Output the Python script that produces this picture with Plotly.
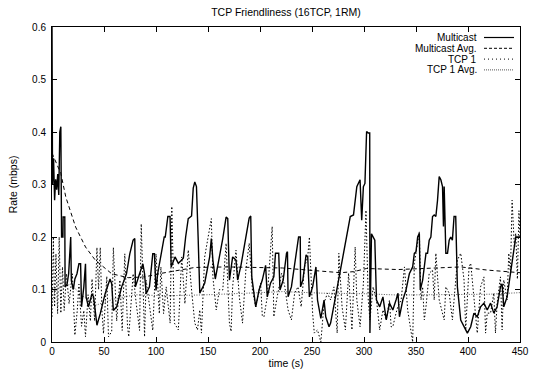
import plotly.graph_objects as go

# ---------------- data ----------------
mc_t = [0, 0.5, 1.5, 2.5, 3.5, 4.5, 5.5, 6.5, 7.5, 8.5, 9.2, 10.5, 10.7, 12.3, 12.6, 14.5, 16, 18, 18.6,
        20.5, 22, 24, 25.9, 27.5, 28.4, 30.6, 32.2, 32.8, 35, 38.5, 40, 43.2, 46.4, 51.1, 55.8, 57.4, 59,
        62.2, 67, 71.6, 74.8, 78, 79.6, 80.2, 84.2, 87.4, 89, 90.5, 93.7, 96.9, 98.5, 100, 101.6, 104.7,
        107.9, 108.9, 111.4, 113.5, 114.6, 118.3, 121.5, 124.7, 126.3, 128.5, 131, 134.2, 135.8, 137.3,
        138.9, 140.5, 142.1, 146.8, 151.6, 153.2, 154.7, 157, 160, 164.2, 167.4, 169, 170.6, 173.7, 176.9,
        178.5, 181.7, 186.4, 189.6, 191.1, 192.1, 195.9, 199.1, 202.2, 205.4, 207, 210.1, 213.3, 214.9,
        218, 219.2, 222.3, 223.9, 225.5, 226.4, 227, 230.2, 234.9, 237.1, 238.7, 239, 241.2, 244.3, 245.9,
        247.5, 250.6, 253.8, 255.3, 258.5, 261.6, 263.2, 266.4, 267.9, 272.6, 277.4, 280.5, 283.7, 286.8,
        289.9, 293.1, 296.2, 297.8, 299.4, 300.9, 302.5, 304.1, 305.5, 305.7, 307.2, 308.8, 310.4, 312,
        315.1, 318.2, 321.4, 324.5, 327.7, 330.8, 332.7, 334.1, 337.3, 340.4, 342, 343.6, 346.8, 348.4,
        350, 351.6, 353.2, 354.1, 356.4, 358, 359.6, 361.1, 362.7, 364.3, 365.9, 367.5, 369.1, 370.7,
        372.3, 373.9, 375.5, 376.4, 377.1, 378.7, 380.3, 381.9, 383.4, 385, 386.6, 388.2, 389.8, 393,
        396.2, 399.4, 402.6, 405.7, 408.9, 412.1, 415.3, 418.5, 421.7, 424.8, 428, 431.2, 432.8, 434.4,
        437.6, 440.8, 442.4, 444, 445.9, 450]
mc_v = [0.60, 0.30, 0.35, 0.27, 0.31, 0.29, 0.32, 0.28, 0.40, 0.41, 0.20, 0.20, 0.238, 0.238, 0.105, 0.11, 0.13, 0.20, 0.117,
        0.10, 0.12, 0.13, 0.149, 0.149, 0.067, 0.105, 0.149, 0.086, 0.067, 0.092, 0.086, 0.032, 0.054, 0.092, 0.12, 0.111, 0.06,
        0.067, 0.105, 0.13, 0.168, 0.194, 0.197, 0.105, 0.13, 0.149, 0.13, 0.092, 0.105, 0.168, 0.168, 0.098, 0.13, 0.168,
        0.20, 0.20, 0.239, 0.239, 0.143, 0.162, 0.15, 0.156, 0.16, 0.20, 0.235, 0.24, 0.293, 0.305,
        0.296, 0.20, 0.093, 0.112, 0.162, 0.197, 0.156, 0.12, 0.15, 0.197, 0.238, 0.235, 0.118, 0.162, 0.156,
        0.118, 0.146, 0.196, 0.236, 0.24, 0.124, 0.067, 0.099, 0.118, 0.146, 0.086, 0.112, 0.124, 0.169,
        0.169, 0.099, 0.118, 0.15, 0.169, 0.172, 0.086, 0.105, 0.169, 0.20, 0.20, 0.105, 0.118, 0.166, 0.162,
        0.086, 0.105, 0.143, 0.08, 0.045, 0.08, 0.048, 0.029, 0.036, 0.086, 0.137, 0.169, 0.207, 0.239,
        0.242, 0.296, 0.309, 0.232, 0.296, 0.302, 0.401, 0.398, 0.398, 0.017, 0.206, 0.20, 0.194, 0.08,
        0.067, 0.086, 0.042, 0.074, 0.061, 0.08, 0.093, 0.048, 0.08, 0.099, 0.118, 0.13, 0.143, 0.169,
        0.172, 0.20, 0.207, 0.099, 0.118, 0.146, 0.169, 0.169, 0.194, 0.20, 0.239, 0.242, 0.239, 0.27,
        0.315, 0.309, 0.296, 0.22, 0.296, 0.169, 0.169, 0.194, 0.20, 0.194, 0.239, 0.239, 0.105, 0.042,
        0.029, 0.017, 0.029, 0.055, 0.048, 0.067, 0.074, 0.061, 0.074, 0.055, 0.067, 0.105, 0.111, 0.067,
        0.086, 0.13, 0.15, 0.181, 0.20, 0.20]

mavg_t = [0, 8.5, 13.3, 22.7, 32.2, 41.6, 57.4, 73.2, 89, 105.7, 137.3, 169, 221.5, 249, 277.4, 290,
          302.5, 332.7, 361, 393, 418.5, 446, 450]
mavg_v = [0.36, 0.321, 0.276, 0.219, 0.181, 0.156, 0.130, 0.1225, 0.124, 0.131, 0.142, 0.143, 0.141, 0.137,
          0.132, 0.134, 0.140, 0.138, 0.140, 0.143, 0.137, 0.132, 0.132]

tcp_t = [0, 1.3, 2.5, 3.8, 5.4, 6.9, 8.5, 10.1, 11.7, 13.9, 16.4, 19.6, 22, 24.3, 25.9, 28.4, 30.6, 32.2,
         34.7, 36.9, 38.5, 41, 43.2, 44.8, 46.4, 48, 49.5, 52.7, 54.3, 57.4, 59, 60.6, 62.2, 65.3, 67.5, 70,
         72.6, 73.8, 78, 81, 84.2, 85.8, 87.4, 89, 90.5, 93.7, 96.9, 100, 103.2, 104.7, 107.3, 109.8,
         113.6, 115.2, 117.7, 121.5, 124.7, 127.8, 131, 134.2, 137.3, 139.9, 142.1, 143.7, 146.8, 153.2,
         154.7, 157.9, 161, 164.2, 167.4, 170.6, 172.2, 173.7, 176.9, 180.1, 183.2, 186.4, 189.6, 192.7,
         195.9, 200.6, 202.2, 203.8, 207, 211.7, 213.3, 216.5, 219.6, 220.8, 223.9, 227, 230.2, 233.3,
         236.5, 239.6, 242.8, 245.9, 247.5, 249.1, 250.6, 252.2, 255.3, 258.5, 261.6, 264.8, 267.9, 271.1,
         274.2, 275.8, 278.9, 282.1, 285.2, 288.4, 291.5, 293.1, 296.2, 299.4, 301.9, 304.1, 305.7, 308.8,
         312, 315.1, 318.2, 321.4, 324.5, 326.1, 327.7, 330.8, 332.5, 335.7, 338.9, 342, 345.2, 346.8,
         348.4, 353.2, 354.8, 356.4, 358, 359.6, 362.7, 365.9, 367.5, 369.1, 372.3, 375.5, 377.1, 378.7,
         381.9, 385, 389.8, 393, 396.2, 397.8, 401, 402.6, 405.7, 408.9, 412.1, 415.3, 416.9, 418.5, 421.7,
         424.8, 426.4, 428, 431.2, 432.8, 434.4, 437.6, 439.2, 440.8, 442.4, 444.6, 445.9, 447.5, 449, 450]
tcp_v = [0.048, 0.20, 0.067, 0.168, 0.054, 0.20, 0.055, 0.143, 0.06, 0.13, 0.073, 0.13, 0.013, 0.06, 0.11, 0.03, 0.06, 0.01,
         0.09, 0.04, 0.12, 0.04, 0.18, 0.10, 0.18, 0.06, 0.016, 0.125, 0.01, 0.02, 0.18, 0.105, 0.04, 0.118, 0.022, 0.168,
         0.03, 0.01, 0.13, 0.073, 0.022, 0.225, 0.13, 0.01, 0.118, 0.073, 0.022, 0.168, 0.054, 0.143, 0.054, 0.105,
         0.036, 0.258, 0.036, 0.023, 0.162, 0.073, 0.175, 0.099, 0.036, 0.023, 0.061, 0.017, 0.162, 0.235,
         0.124, 0.061, 0.10, 0.099, 0.188, 0.036, 0.02, 0.105, 0.175, 0.086, 0.036, 0.137, 0.188, 0.099,
         0.067, 0.112, 0.05, 0.048, 0.086, 0.22, 0.048, 0.086, 0.124, 0.131, 0.105, 0.061, 0.042, 0.093,
         0.105, 0.067, 0.143, 0.162, 0.20, 0.105, 0.055, 0.017, 0.023, 0.0, 0.074, 0.093, 0.08, 0.105,
         0.017, 0.169, 0.067, 0.023, 0.131, 0.023, 0.181, 0.08, 0.029, 0.111, 0.251, 0.08, 0.042, 0.105,
         0.08, 0.023, 0.061, 0.042, 0.08, 0.029, 0.029, 0.055, 0.067, 0.08, 0.143, 0.061, 0.017, 0.0,
         0.15, 0.21, 0.08, 0.105, 0.042, 0.067, 0.131, 0.137, 0.08, 0.169, 0.08, 0.055, 0.042, 0.105,
         0.093, 0.042, 0.156, 0.169, 0.118, 0.023, 0.143, 0.15, 0.08, 0.017, 0.105, 0.124, 0.017, 0.055, 0.055,
         0.093, 0.017, 0.074, 0.124, 0.023, 0.118, 0.08, 0.169, 0.131, 0.27, 0.181, 0.207, 0.12, 0.25, 0.20]

tavg_t = [0, 3, 10, 18, 28, 42, 60, 80, 110, 150, 200, 222, 260, 300, 332, 380, 420, 450]
tavg_v = [0.07, 0.10, 0.105, 0.11, 0.09, 0.07, 0.082, 0.09, 0.088, 0.09, 0.094, 0.096, 0.093, 0.092, 0.0895, 0.09, 0.091, 0.094]

x_ticks = [0, 50, 100, 150, 200, 250, 300, 350, 400, 450]
y_ticks = [0, 0.1, 0.2, 0.3, 0.4, 0.5, 0.6]
names = ["Multicast", "Multicast Avg.", "TCP 1", "TCP 1 Avg."]

# ---------------- figure ----------------
L, R, T, B = 52, 13, 27, 28
W, H = 533, 370
pw, ph = W - L - R, H - T - B

styles = [dict(color="#000000", width=1.4, dash="solid"),
          dict(color="#000000", width=1, dash="4px,3px"),
          dict(color="#000000", width=1, dash="1.5px,2px"),
          dict(color="#555555", width=1, dash="1px,1.5px")]

fig = go.Figure()
fig.add_trace(go.Scatter(x=tcp_t, y=tcp_v, mode="lines", line=styles[2], name=names[2]))
fig.add_trace(go.Scatter(x=tavg_t, y=tavg_v, mode="lines", line=styles[3], name=names[3]))
fig.add_trace(go.Scatter(x=mc_t, y=mc_v, mode="lines", line=styles[0], name=names[0]))
fig.add_trace(go.Scatter(x=mavg_t, y=mavg_v, mode="lines", line=styles[1], name=names[1]))

# gnuplot-style key: right-aligned text followed by a line sample
rows_py = [37.5, 48.3, 59.1, 69.9]
text_right_px, samp0_px, samp1_px = 478, 484, 514
key_styles = [dict(color="#000000", width=1.2), dict(color="#000000", width=1, dash="3px,2px"),
              dict(color="#000000", width=1, dash="1px,3px"), dict(color="#555555", width=1, dash="1px,1px")]
for i, nm in enumerate(names):
    yp = (H - B - rows_py[i]) / ph
    fig.add_annotation(x=(text_right_px - L) / pw, y=yp, xref="paper", yref="paper",
                       text=nm, showarrow=False, xanchor="right", yanchor="middle",
                       borderpad=0, font=dict(size=10, color="black"))
    fig.add_shape(type="line", xref="paper", yref="paper",
                  x0=(samp0_px - L) / pw, x1=(samp1_px - L) / pw, y0=yp, y1=yp,
                  line=key_styles[i])

axis_common = dict(showline=True, linecolor="black", linewidth=1, mirror="allticks",
                   ticks="inside", ticklen=5, tickcolor="black", showgrid=False, zeroline=False,
                   automargin=False, tickfont=dict(size=10, color="black"))
fig.update_xaxes(range=[0, 450], tickvals=x_ticks, ticktext=[str(v) for v in x_ticks],
                 title=dict(text="time (s)", standoff=2, font=dict(size=10.5)), **axis_common)
fig.update_yaxes(range=[0, 0.6], tickvals=y_ticks, ticktext=[("0" if v == 0 else f"{v:g}") for v in y_ticks],
                 ticklabelstandoff=3,
                 title=dict(text="Rate (mbps)", standoff=12, font=dict(size=10.5)), **axis_common)

fig.update_layout(width=W, height=H, margin=dict(l=L, r=R, t=T, b=B, pad=0, autoexpand=False),
                  plot_bgcolor="white", paper_bgcolor="white", showlegend=False,
                  font=dict(family="Liberation Sans, Arial, Helvetica, sans-serif", color="black"),
                  title=dict(text="TCP Friendliness (16TCP, 1RM)", x=0.5, xref="paper", xanchor="center",
                             y=1 - 12 / H, yref="container", yanchor="middle", automargin=False,
                             font=dict(size=10.5)))

# remove the page's default 8px body margin so the figure sits at the window's corner
fig.write_html("out.html", config={"displayModeBar": False},
               post_script="document.body.style.margin='0px';")
